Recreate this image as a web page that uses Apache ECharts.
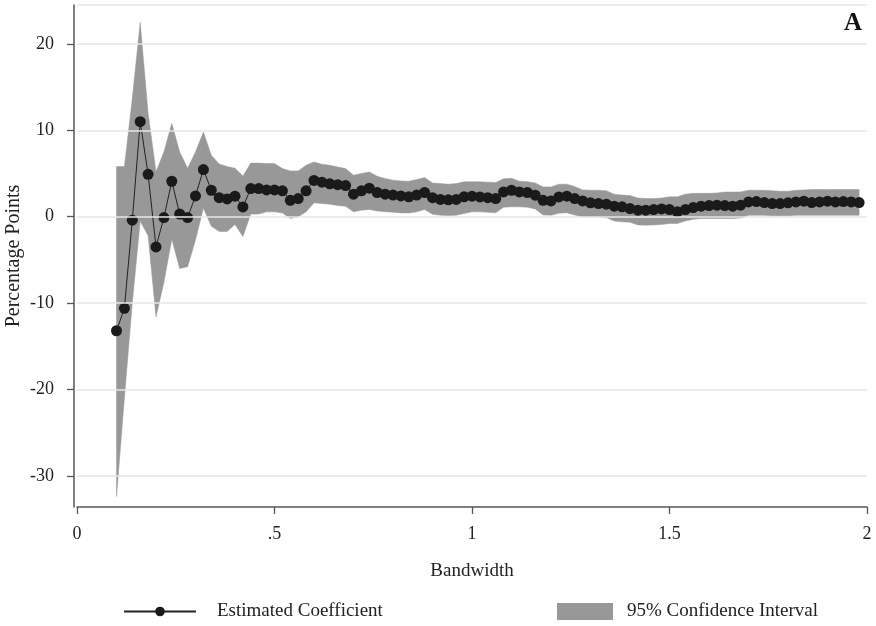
<!DOCTYPE html>
<html>
<head>
<meta charset="utf-8">
<script src="https://cdn.jsdelivr.net/npm/echarts@6/dist/echarts.min.js"></script>
<style>
html,body{margin:0;padding:0;background:#fff;}
#chart{width:876px;height:626px;}
</style>
</head>
<body>
<div id="chart"></div>
<script>
var bandwidth = [0.10,0.12,0.14,0.16,0.18,0.20,0.22,0.24,0.26,0.28,
  0.30,0.32,0.34,0.36,0.38,0.40,0.42,0.44,0.46,0.48,
  0.50,0.52,0.54,0.56,0.58,0.60,0.62,0.64,0.66,0.68,
  0.70,0.72,0.74,0.76,0.78,0.80,0.82,0.84,0.86,0.88,
  0.90,0.92,0.94,0.96,0.98,1.00,1.02,1.04,1.06,1.08,
  1.10,1.12,1.14,1.16,1.18,1.20,1.22,1.24,1.26,1.28,
  1.30,1.32,1.34,1.36,1.38,1.40,1.42,1.44,1.46,1.48,
  1.50,1.52,1.54,1.56,1.58,1.60,1.62,1.64,1.66,1.68,
  1.70,1.72,1.74,1.76,1.78,1.80,1.82,1.84,1.86,1.88,
  1.90,1.92,1.94,1.96,1.98];

var estimate = [-13.2,-10.6,-0.4,11.0,4.9,-3.5,-0.1,4.1,0.3,-0.1,
  2.4,5.45,3.06,2.2,2.06,2.37,1.13,3.26,3.26,3.1,
  3.1,3.0,1.9,2.1,3.0,4.2,4.0,3.8,3.7,3.6,
  2.6,3.0,3.3,2.8,2.6,2.5,2.4,2.3,2.5,2.8,
  2.2,2.0,1.95,2.0,2.3,2.37,2.29,2.2,2.1,2.87,
  3.06,2.87,2.8,2.49,1.9,1.83,2.29,2.37,2.1,1.83,
  1.6,1.52,1.45,1.21,1.14,0.94,0.75,0.75,0.83,0.9,
  0.83,0.56,0.83,1.06,1.21,1.29,1.33,1.29,1.21,1.33,
  1.71,1.75,1.64,1.52,1.52,1.6,1.71,1.79,1.64,1.71,
  1.79,1.71,1.75,1.71,1.64];

var ciUpper = [5.8,5.8,13.7,22.5,12.0,5.2,7.5,10.8,7.5,5.6,
  7.5,9.8,7.1,6.1,5.8,5.6,4.7,6.2,6.2,6.15,
  6.15,5.57,5.3,5.3,5.95,6.34,6.07,5.95,5.76,5.57,
  4.8,5.0,5.18,4.68,4.41,4.22,4.14,4.1,4.3,4.53,
  3.91,3.83,3.76,3.83,4.03,4.05,4.03,4.0,3.95,4.4,
  4.45,4.1,4.05,3.9,3.45,3.45,3.76,3.76,3.5,3.1,
  3.06,3.06,3.0,2.6,2.5,2.45,2.15,2.1,2.1,2.15,
  2.3,2.3,2.6,2.7,2.7,2.7,2.75,2.85,2.85,2.87,
  3.06,3.06,3.06,3.0,2.95,2.95,3.05,3.1,3.14,3.14,
  3.14,3.14,3.14,3.14,3.14];

var ciLower = [-32.4,-21.0,-10.0,-0.5,-2.2,-11.6,-7.6,-2.6,-6.0,-5.8,
  -2.7,1.0,-1.1,-1.7,-1.7,-0.9,-2.3,0.3,0.3,0.56,
  0.56,0.44,-0.21,-0.02,0.56,1.6,1.52,1.45,1.29,1.21,
  0.56,0.75,0.83,0.67,0.56,0.52,0.44,0.44,0.56,0.83,
  0.29,0.17,0.13,0.17,0.37,0.56,0.56,0.5,0.45,1.1,
  1.14,1.14,1.1,0.9,0.2,0.17,0.4,0.45,0.2,0.0,
  -0.02,-0.02,-0.1,-0.5,-0.6,-0.65,-0.95,-0.98,-0.95,-0.9,
  -0.79,-0.79,-0.5,-0.3,-0.21,-0.21,-0.21,-0.21,-0.21,-0.15,
  0.17,0.17,0.17,0.1,0.1,0.1,0.17,0.17,0.17,0.17,
  0.17,0.17,0.17,0.17,0.17];

var yTicks = [-30,-20,-10,0,10,20];
var xTicks = [0,0.5,1,1.5,2];

var FONT = '"Liberation Serif", "DejaVu Serif", serif';
var TXT = '#222';
var BAND = '#989898';

var lowerData = bandwidth.map(function(x,i){return [x, ciLower[i]];});
var bandData = bandwidth.map(function(x,i){return [x, ciLower[i], ciUpper[i]];});
var estData = bandwidth.map(function(x,i){return [x, estimate[i]];});
var gridLines = yTicks.concat([24.5]).map(function(v){return {yAxis:v};});

function renderBand(params, api){
  if (params.dataIndex !== 0) return null;
  var top = [], bot = [];
  for (var i = 0; i < bandwidth.length; i++){
    top.push(api.coord([bandwidth[i], ciUpper[i]]));
    bot.push(api.coord([bandwidth[i], ciLower[i]]));
  }
  var pts = top.concat(bot.reverse());
  return {type:'polygon', shape:{points:pts}, style:{fill:BAND, stroke:BAND, lineWidth:0.5}};
}

var chart = echarts.init(document.getElementById('chart'), null, {renderer:'canvas'});
chart.setOption({
  animation:false,
  backgroundColor:'#fff',
  title:{text:'A', right:9, top:6, textStyle:{fontFamily:FONT, fontWeight:'bold', fontSize:25, color:'#111'}},
  grid:{left:77, right:9, top:5, bottom:119, containLabel:false, outerBoundsMode:'none'},
  xAxis:{type:'value', min:0, max:2, interval:0.5,
    name:'Bandwidth', nameLocation:'middle', nameGap:55, nameMoveOverlap:false,
    nameTextStyle:{fontFamily:FONT, fontSize:19, color:TXT},
    axisLine:{onZero:false, lineStyle:{color:'#555', width:1.5}},
    axisTick:{show:true, length:7, lineStyle:{color:'#555', width:1.3}},
    axisLabel:{fontFamily:FONT, fontSize:18, color:TXT, margin:18,
      formatter:function(v){ if(v===0) return '0'; var s=String(v); return s.indexOf('0.')===0? s.substring(1): s; }},
    splitLine:{show:false}
  },
  yAxis:{type:'value', min:-33.6, max:24.5, offset:3,
    name:'Percentage Points', nameLocation:'middle', nameGap:50, nameRotate:90, nameMoveOverlap:false,
    nameTextStyle:{fontFamily:FONT, fontSize:20, color:TXT},
    axisLine:{show:true, onZero:false, lineStyle:{color:'#555', width:1.5}},
    axisTick:{show:true, length:7, customValues:yTicks, lineStyle:{color:'#555', width:1.3}},
    axisLabel:{fontFamily:FONT, fontSize:18, color:TXT, margin:20, customValues:yTicks},
    splitLine:{show:false}
  },
  legend:[
    {data:[{name:'Estimated Coefficient'}], left:118, top:597, itemWidth:72, itemHeight:12,
     textStyle:{fontFamily:FONT, fontSize:19, color:TXT, padding:[0,0,0,16]}},
    {data:[{name:'95% Confidence Interval', icon:'rect', itemStyle:{color:BAND}}], left:552, top:597, itemWidth:56, itemHeight:17,
     textStyle:{fontFamily:FONT, fontSize:19, color:TXT, padding:[0,0,0,9]}}
  ],
  series:[
    {name:'gridBase', type:'line', data:lowerData,
     symbol:'none', lineStyle:{opacity:0}, z:1, silent:true,
     markLine:{silent:true, symbol:['none','none'], label:{show:false},
       lineStyle:{color:'#e6e6e6', width:1.5, type:'solid'}, data:gridLines}},
    {name:'95% Confidence Interval', type:'custom', data:bandData, renderItem:renderBand,
     itemStyle:{color:BAND}, encode:{x:0, y:[1,2]}, z:2, silent:true},
    {name:'Estimated Coefficient', type:'line', data:estData,
     symbol:'circle', symbolSize:11, showAllSymbol:true,
     itemStyle:{color:'#1a1a1a'}, lineStyle:{color:'#222', width:1}, z:3}
  ]
});
</script>
</body>
</html>
